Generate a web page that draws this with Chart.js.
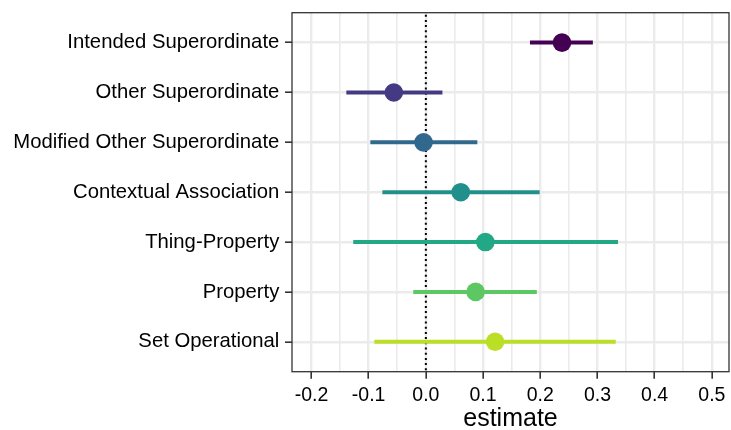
<!DOCTYPE html>
<html>
<head>
<meta charset="utf-8">
<script src="https://cdn.jsdelivr.net/npm/chart.js@4"></script>
<style>
html,body{margin:0;padding:0;background:#fff;}
#wrap{width:731px;height:430px;}
</style>
</head>
<body>
<div id="wrap"><canvas id="c" width="731" height="430"></canvas></div>
<script>
// ---- data ----
const categories = ["Intended Superordinate","Other Superordinate","Modified Other Superordinate","Contextual Association","Thing-Property","Property","Set Operational"];
const estimates = [0.238, -0.056, -0.004, 0.061, 0.104, 0.087, 0.121];
const lower = [0.182, -0.139, -0.097, -0.076, -0.127, -0.022, -0.090];
const upper = [0.292, 0.029, 0.090, 0.199, 0.336, 0.194, 0.332];
const xTicks = [-0.2, -0.1, 0.0, 0.1, 0.2, 0.3, 0.4, 0.5];
const xMinorTicks = [-0.15, -0.05, 0.05, 0.15, 0.25, 0.35, 0.45];
const xTitle = "estimate";

// ---- styles ----
const colors = ["#440154","#443A83","#31688E","#21908C","#22A884","#5DC863","#BBDF27"];
const FONT = "'Liberation Sans', Arial, Helvetica, sans-serif";

const datasets = [];
categories.forEach((c, i) => {
  datasets.push({
    type: 'line',
    data: [{x: lower[i], y: i}, {x: upper[i], y: i}],
    borderColor: colors[i],
    borderWidth: 4,
    pointRadius: 0,
    showLine: true,
    order: 2
  });
});
datasets.push({
  type: 'scatter',
  data: categories.map((c, i) => ({x: estimates[i], y: i})),
  backgroundColor: colors,
  borderColor: colors,
  borderWidth: 0,
  pointRadius: 9.3,
  pointHoverRadius: 9.3,
  order: 0
});

const isMajor = v => xTicks.some(t => Math.abs(t - v) < 1e-9);

const refLine = {
  id: 'refLine',
  beforeDatasetsDraw(chart) {
    const {ctx, chartArea, scales} = chart;
    const px = scales.x.getPixelForValue(0);
    ctx.save();
    ctx.strokeStyle = '#000';
    ctx.lineWidth = 2;
    ctx.setLineDash([2, 3.2]);
    ctx.beginPath();
    ctx.moveTo(px, chartArea.top + 2);
    ctx.lineTo(px, chartArea.bottom);
    ctx.stroke();
    ctx.restore();
  },
  afterDatasetsDraw(chart) {
    const {ctx, chartArea} = chart;
    ctx.save();
    ctx.strokeStyle = '#333333';
    ctx.lineWidth = 1.3;
    ctx.strokeRect(chartArea.left, chartArea.top, chartArea.right - chartArea.left, chartArea.bottom - chartArea.top);
    ctx.restore();
  }
};

function noPad(scale) {
  scale.paddingLeft = 0; scale.paddingRight = 0;
  scale.paddingTop = 0; scale.paddingBottom = 0;
}

new Chart(document.getElementById('c'), {
  type: 'scatter',
  data: { datasets },
  plugins: [refLine],
  options: {
    responsive: false,
    animation: false,
    layout: { autoPadding: false, padding: { left: 0, right: 2, top: 12.7, bottom: 0 } },
    plugins: { legend: { display: false }, tooltip: { enabled: false } },
    scales: {
      x: {
        type: 'linear',
        min: -0.234,
        max: 0.530,
        afterBuildTicks(scale) {
          scale.ticks = xTicks.concat(xMinorTicks).sort((a, b) => a - b).map(v => ({value: v}));
        },
        afterFit(scale) { scale.height = 58.3; noPad(scale); },
        ticks: {
          autoSkip: false,
          maxRotation: 0,
          padding: 5,
          color: '#000',
          font: { family: FONT, size: 19.5, lineHeight: 1.2 },
          callback: v => isMajor(v) ? Number(v).toFixed(1) : ''
        },
        grid: {
          color: '#EBEBEB',
          lineWidth: ctx => (ctx.tick && isMajor(ctx.tick.value)) ? 2.4 : 1.6,
          tickColor: ctx => (ctx.tick && isMajor(ctx.tick.value)) ? '#333333' : 'rgba(0,0,0,0)',
          tickWidth: 1.6,
          tickLength: 7,
          drawOnChartArea: true
        },
        border: { display: false },
        title: {
          display: true,
          text: xTitle,
          color: '#000',
          font: { family: FONT, size: 25, lineHeight: 0.88 },
          padding: { top: 0, bottom: 0 }
        }
      },
      y: {
        type: 'linear',
        reverse: true,
        min: -0.6,
        max: categories.length - 1 + 0.6,
        afterBuildTicks(scale) {
          scale.ticks = categories.map((c, i) => ({value: i}));
        },
        afterFit(scale) { scale.width = 292; noPad(scale); },
        ticks: {
          autoSkip: false,
          padding: 5.7,
          color: '#000',
          font: { family: FONT, size: 20.3, lineHeight: 1.2 },
          callback: v => categories[v] !== undefined ? categories[v] : ''
        },
        grid: {
          color: '#EBEBEB',
          lineWidth: 2.4,
          tickColor: '#333333',
          tickWidth: 1.6,
          tickLength: 7
        },
        border: { display: false }
      }
    }
  }
});
</script>
</body>
</html>
